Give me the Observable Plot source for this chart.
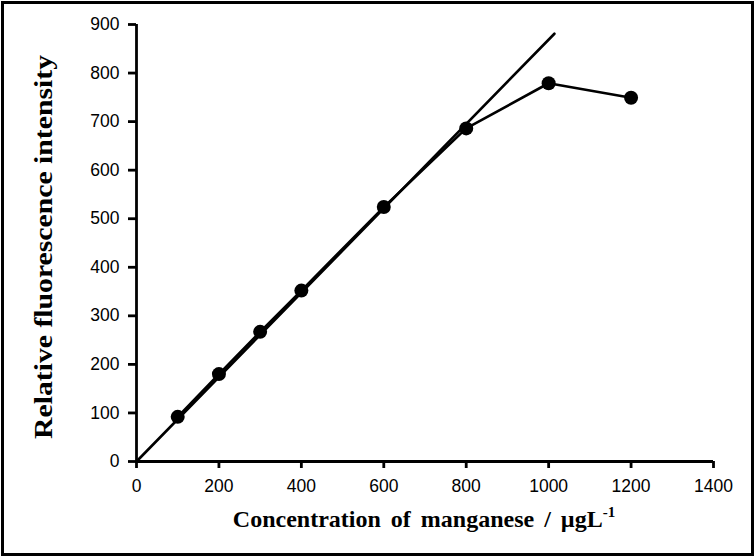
<!DOCTYPE html>
<html>
<head>
<meta charset="utf-8">
<script src="https://cdn.jsdelivr.net/npm/d3@7"></script>
<script src="https://cdn.jsdelivr.net/npm/@observablehq/plot@0.6"></script>
<style>
  html, body { margin: 0; padding: 0; background: #fff; }
</style>
</head>
<body>
<div id="chart"></div>
<script>
// Data
const concentration = [100, 200, 300, 400, 600, 800, 1000, 1200];
const intensity = [92, 180, 267, 352, 524, 686, 779, 749];
// Linear calibration line (end points)
const fitX = [0, 1014];
const fitY = [0, 881];
const xTicks = [0, 200, 400, 600, 800, 1000, 1200, 1400];
const yTicks = [0, 100, 200, 300, 400, 500, 600, 700, 800, 900];
const xTitle = "Concentration of manganese / µgL";
const xTitleSup = "-1";
const yTitle = "Relative fluorescence intensity";

const points = concentration.map((c, i) => ({x: c, y: intensity[i]}));
const fit = fitX.map((c, i) => ({x: c, y: fitY[i]}));

const tickFont = "'Liberation Sans', Arial, sans-serif";

const chart = Plot.plot({
  width: 756,
  height: 559,
  marginLeft: 136,
  marginRight: 43,
  marginTop: 24,
  marginBottom: 98,
  style: {fontFamily: tickFont, background: "#fff", color: "#000"},
  x: {domain: [0, 1400]},
  y: {domain: [0, 900]},
  marks: [
    Plot.axisX({ticks: xTicks, tickFormat: d => String(d), tickSize: 7, tickPadding: 11, strokeWidth: 2.8, label: null}),
    Plot.axisY({ticks: yTicks, tickFormat: d => String(d), tickSize: 8, tickPadding: 9, strokeWidth: 2.8, label: null}),
    Plot.ruleX([0], {strokeWidth: 2.8}),
    Plot.ruleY([0], {strokeWidth: 2.8}),
    Plot.line(fit, {x: "x", y: "y", stroke: "black", strokeWidth: 2.6}),
    Plot.line(points, {x: "x", y: "y", stroke: "black", strokeWidth: 2.6}),
    Plot.dot(points, {x: "x", y: "y", r: 7, fill: "black", stroke: "none"})
  ]
});

document.getElementById("chart").appendChild(chart);

const svg = d3.select(chart);
// tick label size
svg.selectAll("text").each(function() {
  this.setAttribute("font-size", "17.5");
  this.style.fontSize = "17.5px";
  this.style.fontFamily = tickFont;
});

// outer frame
svg.append("rect")
  .attr("x", 2.5).attr("y", 2.5)
  .attr("width", 750).attr("height", 552)
  .attr("fill", "none").attr("stroke", "black").attr("stroke-width", 3);

// x-axis title
const xt = svg.append("text")
  .attr("x", 424).attr("y", 527)
  .attr("text-anchor", "middle")
  .style("font-family", "'Liberation Serif', 'Times New Roman', serif")
  .style("font-weight", "bold")
  .style("font-size", "24px")
  .attr("fill", "black");
xt.append("tspan").attr("word-spacing", "4px").text(xTitle);
xt.append("tspan").style("font-size", "15px").attr("dy", -10).text(xTitleSup);

// y-axis title
svg.append("text")
  .attr("transform", "translate(52,247) rotate(-90)")
  .attr("text-anchor", "middle")
  .style("font-family", "'Liberation Serif', 'Times New Roman', serif")
  .style("font-weight", "bold")
  .style("font-size", "26px")
  .attr("textLength", 384)
  .attr("lengthAdjust", "spacingAndGlyphs")
  .attr("fill", "black")
  .text(yTitle);
</script>
</body>
</html>
